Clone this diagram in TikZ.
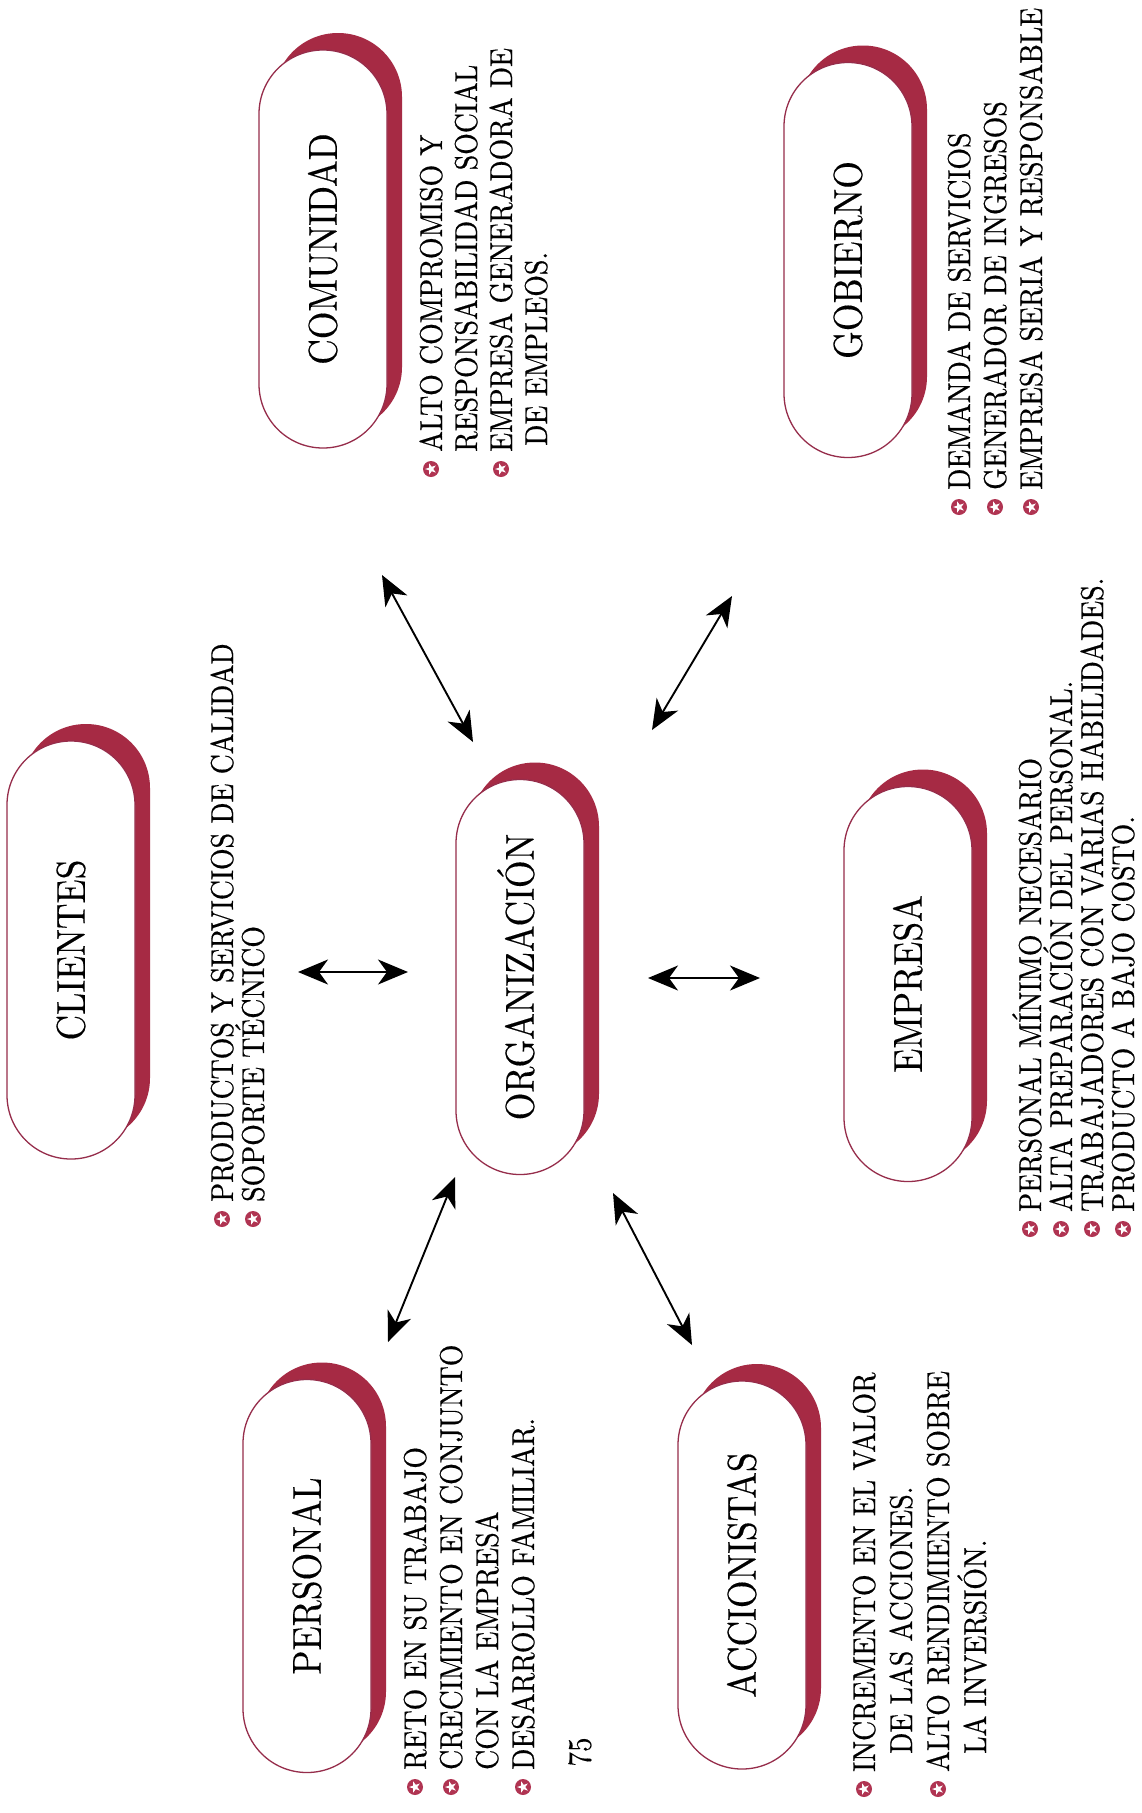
\documentclass[tikz,border=0pt]{standalone}
\usepackage{fontspec}
\usetikzlibrary{arrows.meta}

% Slightly condensed serif so caps come out tall for their width
\newfontfamily\serifwide{lmroman10-regular}[Extension=.otf, FakeStretch=0.88, FakeBold=0.5]
\newfontfamily\seriflabel{lmroman10-regular}[Extension=.otf, FakeStretch=0.88, FakeBold=0.25]
\newcommand\labfont{\seriflabel\fontsize{40.3pt}{44pt}\selectfont}
\newcommand\itemfont{\serifwide\fontsize{31.6pt}{36pt}\selectfont}

\definecolor{shade}{RGB}{166,42,68}
\definecolor{rim}{RGB}{150,45,75}
\definecolor{dot}{RGB}{176,52,82}

\tikzset{
  pill/.style={rectangle, draw=rim, line width=1.3pt, fill=white, rotate=90,
    minimum height=128pt, rounded corners=63.9pt, inner sep=0pt,
    font=\labfont, text height=27.5pt, text depth=0pt},
  pillshade/.style={rectangle, fill=shade, minimum width=128pt,
    rounded corners=63.9pt, inner sep=0pt},
  item/.style={rotate=90, anchor=base west, inner sep=0pt, font=\itemfont},
  bul/.style={circle, fill=dot, minimum size=16pt, inner sep=0pt,
    path picture={\fill[white]
      ([shift={(180:6pt)}]path picture bounding box.center)
      \foreach \k in {1,...,4}{ -- ([shift={(180+\k*144:6pt)}]path picture bounding box.center)}
      -- cycle;}},
  link/.style={line width=1.9pt,
    {Stealth[length=30pt,width=25pt,inset=9pt]}-{Stealth[length=30pt,width=25pt,inset=9pt]}},
}

% name, centre x, centre y, length, label
\newcommand\pillnode[5]{%
  \node[pillshade, minimum height=#4pt] (#1-sh) at (#2+15,#3-17) {};
  \node[pill, minimum width=#4pt] (#1) at (#2,#3) {#5};}

\begin{document}
\begin{tikzpicture}[x=1pt, y=-1pt]
  \fill[white] (0,0) rectangle (1141,1813);
  \useasboundingbox (0,0) rectangle (1141,1813);

  % stakeholder boxes
  \pillnode{cli}{71}{950}{418}{CLIENTES}
  \pillnode{org}{520}{977}{395}{ORGANIZACIÓN}
  \pillnode{com}{323}{249}{398}{COMUNIDAD}
  \pillnode{gob}{848}{260}{395}{GOBIERNO}
  \pillnode{emp}{908}{984}{395}{EMPRESA}
  \pillnode{per}{307}{1576}{393}{PERSONAL}
  \pillnode{acc}{742}{1575}{388}{ACCIONISTAS}

  % two-way links with the organisation
  \coordinate (cli-a) at (298,972);  \coordinate (cli-b) at (408,972);
  \coordinate (emp-a) at (648,978);  \coordinate (emp-b) at (760,978);
  \coordinate (com-a) at (382,575);  \coordinate (com-b) at (473,742);
  \coordinate (gob-a) at (732,596);  \coordinate (gob-b) at (652,730);
  \coordinate (per-a) at (455,1177); \coordinate (per-b) at (388,1342);
  \coordinate (acc-a) at (613,1193); \coordinate (acc-b) at (692,1345);
  \draw[link] (cli-a) -- (cli-b);
  \draw[link] (emp-a) -- (emp-b);
  \draw[link] (com-a) -- (com-b);
  \draw[link] (gob-a) -- (gob-b);
  \draw[link] (per-a) -- (per-b);
  \draw[link] (acc-a) -- (acc-b);

  % clientes
  \node[item] (cli-t1) at (233,1202) {PRODUCTOS Y SERVICIOS DE CALIDAD};
  \node[item] (cli-t2) at (264,1202) {SOPORTE TÉCNICO};
  \node[bul] (cli-b1) at (222,1219) {};
  \node[bul] (cli-b2) at (253,1219) {};

  % personal
  \node[item] (per-t1) at (426,1770) {RETO EN SU TRABAJO};
  \node[item] (per-t2) at (462,1770) {CRECIMIENTO EN CONJUNTO};
  \node[item] (per-t3) at (498,1770) {CON LA EMPRESA};
  \node[item] (per-t4) at (534,1770) {DESARROLLO FAMILIAR.};
  \node[bul] (per-b1) at (415,1787) {};
  \node[bul] (per-b2) at (451,1787) {};
  \node[bul] (per-b4) at (523,1787) {};

  % accionistas
  \node[item] (acc-t1) at (875,1772) {INCREMENTO EN EL VALOR};
  \node[item] (acc-t2) at (912,1754) {DE LAS ACCIONES.};
  \node[item] (acc-t3) at (949,1772) {ALTO RENDIMIENTO SOBRE};
  \node[item] (acc-t4) at (986,1754) {LA INVERSIÓN.};
  \node[bul] (acc-b1) at (864,1789) {};
  \node[bul] (acc-b3) at (938,1789) {};

  % empresa
  \node[item] (emp-t1) at (1041,1212) {PERSONAL MÍNIMO NECESARIO};
  \node[item] (emp-t2) at (1072,1212) {ALTA PREPARACIÓN DEL PERSONAL.};
  \node[item] (emp-t3) at (1103,1212) {TRABAJADORES CON VARIAS HABILIDADES.};
  \node[item] (emp-t4) at (1134,1212) {PRODUCTO A BAJO COSTO.};
  \node[bul] (emp-b1) at (1030,1229) {};
  \node[bul] (emp-b2) at (1061,1229) {};
  \node[bul] (emp-b3) at (1092,1229) {};
  \node[bul] (emp-b4) at (1123,1229) {};

  % comunidad
  \node[item] (com-t1) at (442,452) {ALTO COMPROMISO Y};
  \node[item] (com-t2) at (477,452) {RESPONSABILIDAD SOCIAL};
  \node[item] (com-t3) at (512,452) {EMPRESA GENERADORA DE};
  \node[item] (com-t4) at (547,446) {DE EMPLEOS.};
  \node[bul] (com-b1) at (431,469) {};
  \node[bul] (com-b3) at (501,469) {};

  % gobierno
  \node[item] (gob-t1) at (970,490) {DEMANDA DE SERVICIOS};
  \node[item] (gob-t2) at (1006,490) {GENERADOR DE INGRESOS};
  \node[item] (gob-t3) at (1042,490) {EMPRESA SERIA Y RESPONSABLE};
  \node[bul] (gob-b1) at (959,507) {};
  \node[bul] (gob-b2) at (995,507) {};
  \node[bul] (gob-b3) at (1031,507) {};

  % page number
  \node[rotate=90, inner sep=0pt, font=\seriflabel\fontsize{33pt}{36pt}\selectfont]
    (pageno) at (580,1752) {75};
\end{tikzpicture}
\end{document}
